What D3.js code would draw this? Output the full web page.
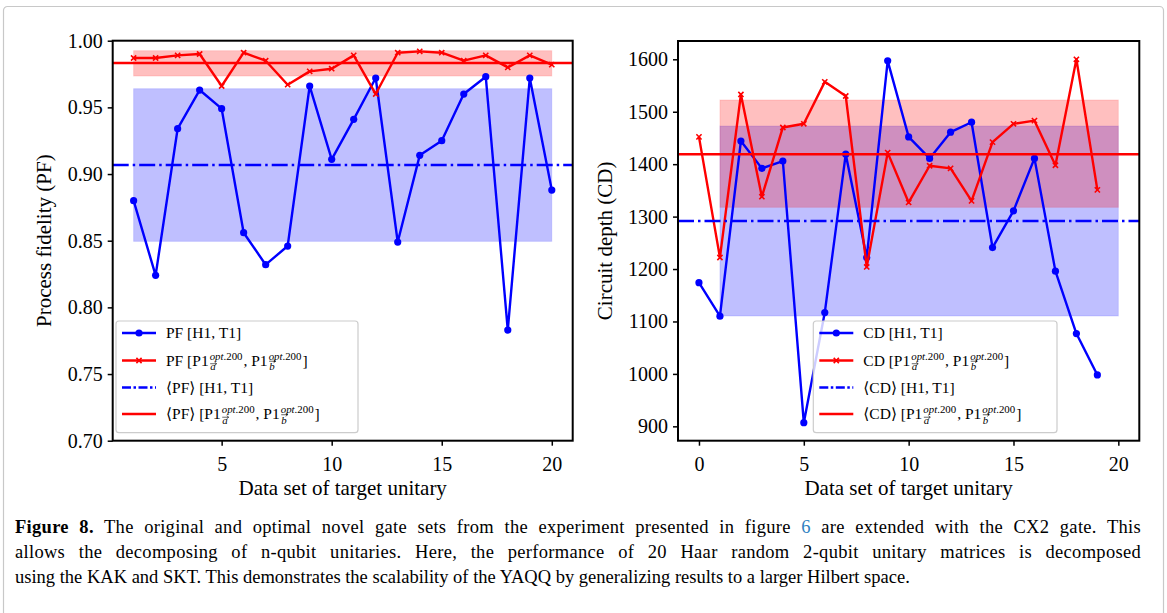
<!DOCTYPE html>
<html>
<head>
<meta charset="utf-8">
<script src="https://cdn.jsdelivr.net/npm/d3@7"></script>
<style>
body { margin: 0; background: #fff; }
svg { display: block; font-family: "Liberation Serif", "DejaVu Serif", serif; }
</style>
</head>
<body>
<svg id="fig" width="1167" height="613"></svg>
<script>
// data
var pfSets = [1, 2, 3, 4, 5, 6, 7, 8, 9, 10, 11, 12, 13, 14, 15, 16, 17, 18, 19, 20];
var pfH1T1 = [0.880, 0.824, 0.934, 0.963, 0.949, 0.856, 0.832, 0.846, 0.966, 0.911,
              0.941, 0.972, 0.849, 0.914, 0.925, 0.960, 0.973, 0.783, 0.972, 0.888];
var pfOpt  = [0.987, 0.987, 0.989, 0.990, 0.966, 0.991, 0.985, 0.967, 0.977, 0.979,
              0.989, 0.960, 0.991, 0.992, 0.991, 0.985, 0.989, 0.980, 0.989, 0.982];
var pfMean = [0.9067, 0.9833];      // [H1 T1, opt]
var pfLow  = [0.8495, 0.9735];
var pfHigh = [0.9640, 0.9925];

var cdSets = [0, 1, 2, 3, 4, 5, 6, 7, 8, 9, 10, 11, 12, 13, 14, 15, 16, 17, 18, 19];
var cdH1T1 = [1174, 1110, 1444, 1392, 1406, 907, 1117, 1419, 1222, 1597,
              1452, 1411, 1461, 1480, 1241, 1311, 1411, 1196, 1077, 998];
var cdOpt  = [1452, 1222, 1533, 1338, 1470, 1477, 1557, 1530, 1204, 1422,
              1327, 1397, 1392, 1330, 1442, 1477, 1483, 1398, 1600, 1351];
var cdMean = [1291.6, 1419];
var cdLow  = [1110.4, 1317.7];
var cdHigh = [1472.8, 1522.4];
var bandSpan = [1, 20];

var pfTicks = [0.70, 0.75, 0.80, 0.85, 0.90, 0.95, 1.00];
var cdTicks = [900, 1000, 1100, 1200, 1300, 1400, 1500, 1600];
var pfXTicks = [5, 10, 15, 20];
var cdXTicks = [0, 5, 10, 15, 20];

var captionLines = [
  "allows the decomposing of n-qubit unitaries. Here, the performance of 20 Haar random 2-qubit unitary matrices is decomposed",
  "using the KAK and SKT. This demonstrates the scalability of the YAQQ by generalizing results to a larger Hilbert space."
];

var BLUE = "#0000ff", RED = "#ff0000";
var svg = d3.select("#fig");

// outer frame of the figure box
svg.append("rect")
  .attr("x", 3.5).attr("y", 6.5)
  .attr("width", 1160).attr("height", 640)
  .attr("rx", 4)
  .attr("fill", "none")
  .attr("stroke", "#c8c8c8")
  .attr("stroke-width", 1.2);

function label(g, x, y, parts, size) {
  // text with stacked super/subscripts, measured piece by piece
  var cx = x;
  parts.forEach(function (p) {
    if (p.t !== undefined) {
      var t = g.append("text").attr("x", cx).attr("y", y)
        .attr("font-size", size).text(p.t);
      cx += t.node().getComputedTextLength();
    } else {
      var s = size * 0.7;
      var up = g.append("text").attr("x", cx + 1).attr("y", y - size * 0.38)
        .attr("font-size", s);
      up.append("tspan").attr("font-style", "italic").text(p.sup[0]);
      up.append("tspan").text(p.sup[1]);
      var sy = y + size * 0.32;
      var dn = g.append("text").attr("x", cx + 1.5).attr("y", sy)
        .attr("font-size", s).attr("font-style", "italic").text(p.sub);
      var w = dn.node().getComputedTextLength();
      var ay = sy - s * (p.sub === "b" ? 0.85 : 0.62);
      var ax0 = cx + 1.5, ax1 = cx + 2.5 + w;
      g.append("path")
        .attr("d", "M" + ax0 + "," + ay + "L" + ax1 + "," + ay +
                   "M" + (ax1 - 2) + "," + (ay - 1.6) + "L" + ax1 + "," + ay + "L" + (ax1 - 2) + "," + (ay + 1.6))
        .attr("fill", "none").attr("stroke", "#000").attr("stroke-width", 0.6);
      cx += Math.max(up.node().getComputedTextLength(), w) + 2;
    }
  });
}

function panel(cfg) {
  var x = d3.scaleLinear().domain(cfg.xDomain).range([cfg.left, cfg.right]);
  var y = d3.scaleLinear().domain(cfg.yDomain).range([cfg.bottom, cfg.top]);
  var g = svg.append("g");

  var clip = g.append("clipPath").attr("id", cfg.id + "clip");
  clip.append("rect").attr("x", cfg.left).attr("y", cfg.top)
    .attr("width", cfg.right - cfg.left).attr("height", cfg.bottom - cfg.top);
  var plot = g.append("g").attr("clip-path", "url(#" + cfg.id + "clip)");

  // mean +- std bands
  [0, 1].forEach(function (i) {
    var col = i === 0 ? BLUE : RED;
    plot.append("rect")
      .attr("x", x(bandSpan[0]))
      .attr("y", y(cfg.high[i]))
      .attr("width", x(bandSpan[1]) - x(bandSpan[0]))
      .attr("height", y(cfg.low[i]) - y(cfg.high[i]))
      .attr("fill", col).attr("fill-opacity", 0.25)
      .attr("stroke", col).attr("stroke-opacity", 0.12).attr("stroke-width", 1);
  });

  var line = d3.line().x(function (d) { return x(d[0]); }).y(function (d) { return y(d[1]); });
  var blueData = d3.zip(cfg.sets, cfg.h1t1);
  var redData = d3.zip(cfg.sets, cfg.opt);

  plot.append("path").datum(blueData).attr("d", line)
    .attr("fill", "none").attr("stroke", BLUE).attr("stroke-width", 2.4)
    .attr("stroke-linejoin", "round");
  plot.selectAll(".dot").data(blueData).enter().append("circle")
    .attr("cx", function (d) { return x(d[0]); })
    .attr("cy", function (d) { return y(d[1]); })
    .attr("r", 3.6).attr("fill", BLUE);

  plot.append("path").datum(redData).attr("d", line)
    .attr("fill", "none").attr("stroke", RED).attr("stroke-width", 2.4)
    .attr("stroke-linejoin", "round");
  plot.selectAll(".cross").data(redData).enter().append("path")
    .attr("d", function (d) {
      var px = x(d[0]), py = y(d[1]), h = 2.6;
      return "M" + (px - h) + "," + (py - h) + "L" + (px + h) + "," + (py + h) +
             "M" + (px - h) + "," + (py + h) + "L" + (px + h) + "," + (py - h);
    })
    .attr("stroke", RED).attr("stroke-width", 1.6);

  // mean lines across the whole axes
  plot.append("line")
    .attr("x1", cfg.left).attr("x2", cfg.right)
    .attr("y1", y(cfg.mean[0])).attr("y2", y(cfg.mean[0]))
    .attr("stroke", BLUE).attr("stroke-width", 2.5)
    .attr("stroke-dasharray", "16,4,2.5,4");
  plot.append("line")
    .attr("x1", cfg.left).attr("x2", cfg.right)
    .attr("y1", y(cfg.mean[1])).attr("y2", y(cfg.mean[1]))
    .attr("stroke", RED).attr("stroke-width", 2.5);

  // axes
  var xAxis = d3.axisBottom(x).tickValues(cfg.xTicks).tickSize(5).tickPadding(6)
    .tickFormat(d3.format("d"));
  var yAxis = d3.axisLeft(y).tickValues(cfg.yTicks).tickSize(5).tickPadding(5)
    .tickFormat(cfg.yFormat);
  var gx = g.append("g").attr("transform", "translate(0," + cfg.bottom + ")").call(xAxis);
  var gy = g.append("g").attr("transform", "translate(" + cfg.left + ",0)").call(yAxis);
  [gx, gy].forEach(function (a) {
    a.select(".domain").remove();
    a.selectAll(".tick line").attr("stroke", "#000").attr("stroke-width", 1.5);
    a.selectAll(".tick text").attr("font-family", "Liberation Serif, serif")
      .attr("font-size", 20).attr("fill", "#000");
  });
  gx.selectAll(".tick text").attr("dy", "0.95em");

  g.append("rect")
    .attr("x", cfg.left).attr("y", cfg.top)
    .attr("width", cfg.right - cfg.left).attr("height", cfg.bottom - cfg.top)
    .attr("fill", "none").attr("stroke", "#000").attr("stroke-width", 2);

  g.append("text")
    .attr("x", (cfg.left + cfg.right) / 2).attr("y", cfg.bottom + 54)
    .attr("text-anchor", "middle").attr("font-size", 21)
    .text("Data set of target unitary");
  g.append("text")
    .attr("transform", "translate(" + cfg.yLabelX + "," + ((cfg.top + cfg.bottom) / 2) + ") rotate(-90)")
    .attr("text-anchor", "middle").attr("font-size", 21)
    .text(cfg.yLabel);

  // legend
  var L = cfg.legend;
  var lg = g.append("g");
  lg.append("rect")
    .attr("x", L.x).attr("y", L.y).attr("width", L.w).attr("height", L.h)
    .attr("rx", 3).attr("fill", "#fff").attr("fill-opacity", 0.8)
    .attr("stroke", "#cccccc").attr("stroke-width", 1.2);
  var rows = [L.y + 12, L.y + 39.5, L.y + 66.5, L.y + 93];
  var hx0 = L.x + 6, hx1 = L.x + 40, hm = (hx0 + hx1) / 2;
  var optParts = function (q) {
    return [{ t: q + " [P1" }, { sup: ["opt", ".200"], sub: "a" },
            { t: ", P1" }, { sup: ["opt", ".200"], sub: "b" }, { t: "]" }];
  };
  var entries = [
    { col: BLUE, dash: null, mark: "dot", parts: [{ t: cfg.q + " [H1, T1]" }] },
    { col: RED, dash: null, mark: "cross", parts: optParts(cfg.q) },
    { col: BLUE, dash: "9,2.5,2.5,2.5", mark: null, parts: [{ t: "\u27E8" + cfg.q + "\u27E9 [H1, T1]" }] },
    { col: RED, dash: null, mark: null, parts: optParts("\u27E8" + cfg.q + "\u27E9") }
  ];
  entries.forEach(function (e, i) {
    var ry = rows[i];
    lg.append("line").attr("x1", hx0).attr("x2", hx1).attr("y1", ry).attr("y2", ry)
      .attr("stroke", e.col).attr("stroke-width", 2.5)
      .attr("stroke-dasharray", e.dash);
    if (e.mark === "dot") {
      lg.append("circle").attr("cx", hm).attr("cy", ry).attr("r", 3.6).attr("fill", e.col);
    } else if (e.mark === "cross") {
      lg.append("path").attr("d", "M" + (hm - 2.6) + "," + (ry - 2.6) + "L" + (hm + 2.6) + "," + (ry + 2.6) +
        "M" + (hm - 2.6) + "," + (ry + 2.6) + "L" + (hm + 2.6) + "," + (ry - 2.6))
        .attr("stroke", e.col).attr("stroke-width", 1.6);
    }
    label(lg, L.x + 50, ry + 5, e.parts, 15.5);
  });
}

panel({
  id: "pf", q: "PF",
  left: 112.7, right: 572.7, top: 40.7, bottom: 440.7,
  xDomain: [0.05, 20.95], yDomain: [0.70, 1.00],
  sets: pfSets, h1t1: pfH1T1, opt: pfOpt,
  mean: pfMean, low: pfLow, high: pfHigh,
  xTicks: pfXTicks, yTicks: pfTicks, yFormat: d3.format(".2f"),
  yLabel: "Process fidelity (PF)", yLabelX: 51,
  legend: { x: 116, y: 321, w: 242, h: 111.7 }
});

panel({
  id: "cd", q: "CD",
  left: 678, right: 1139.3, top: 41, bottom: 440.7,
  xDomain: [-1, 21], yDomain: [872.6, 1634.9],
  sets: cdSets, h1t1: cdH1T1, opt: cdOpt,
  mean: cdMean, low: cdLow, high: cdHigh,
  xTicks: cdXTicks, yTicks: cdTicks, yFormat: d3.format("d"),
  yLabel: "Circuit depth (CD)", yLabelX: 612,
  legend: { x: 813.3, y: 321, w: 243.7, h: 111.7 }
});

// caption, first two lines justified (a little letter spacing, rest between words)
var cap = svg.append("g").attr("font-family", "Liberation Serif, serif").attr("font-size", 18.5);
function justify(t, width) {
  var txt = t.text();
  var n = (txt.match(/ /g) || []).length;
  t.attr("letter-spacing", 0.3);
  var extra = width - t.node().getComputedTextLength();
  t.attr("word-spacing", Math.max(0, extra / n));
}
var first = cap.append("text").attr("x", 15).attr("y", 533);
first.append("tspan").attr("font-weight", "bold").text("Figure 8.");
first.append("tspan").text(" The original and optimal novel gate sets from the experiment presented in figure ");
first.append("tspan").attr("fill", "#2f7fc1").text("6");
first.append("tspan").text(" are extended with the CX2 gate. This");
justify(first, 1126);
captionLines.forEach(function (s, i) {
  var t = cap.append("text").attr("x", 15).attr("y", 558 + i * 25).text(s);
  if (i === 0) justify(t, 1126);
});
</script>
</body>
</html>
